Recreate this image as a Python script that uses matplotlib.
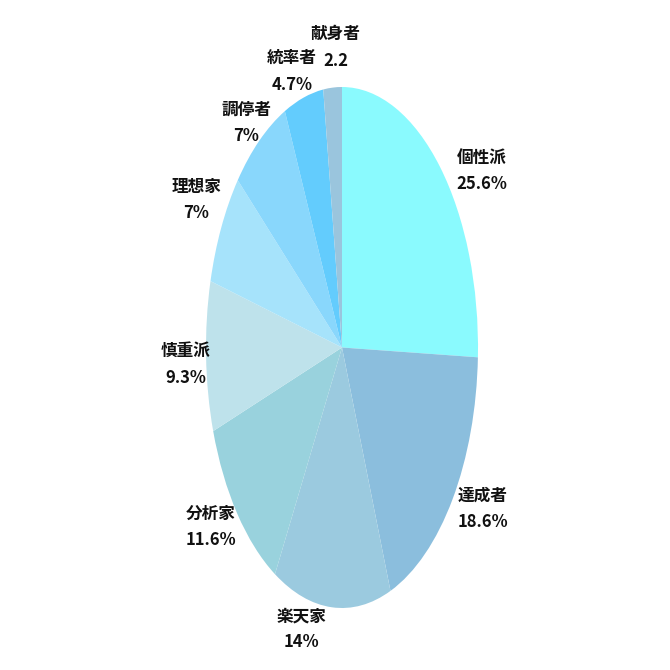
import numpy as np
import matplotlib
matplotlib.use("Agg")
import matplotlib.pyplot as plt

plt.rcParams['font.family'] = ['Noto Sans CJK JP', 'DejaVu Sans']

######################################
names = ['個性派', '達成者', '楽天家', '分析家', '慎重派', '理想家', '調停者', '統率者', '献身者']
values = [25.6, 18.6, 14, 11.6, 9.3, 7, 7, 4.7, 2.2]
value_labels = ['25.6%', '18.6%', '14%', '11.6%', '9.3%', '7%', '7%', '4.7%', '2.2']
colors = ['#8AFAFE', '#8BBEDD', '#9BCADF', '#99D2DD', '#BEE2EB',
          '#A6E3FB', '#89D7FC', '#63CCFD', '#9AC5DD']
# label offset from the slice's outer midpoint, in pixels (x right, y up)
label_offsets = [(42, -4), (30, -10), (-30, -22), (-26, -13), (-20, -8),
                 (-25, 28), (-13, 18), (-12, 26), (3, 40)]
######################################

W, H = 670, 670
cx, cy = 342, 347.5   # ellipse centre in pixels (from top)
rx, ry = 136, 260.5
m = 1.05

fig = plt.figure(figsize=(W / 100, H / 100), dpi=100)
ax = fig.add_axes([(cx - rx * m) / W, (H - cy - ry * m) / H, 2 * rx * m / W, 2 * ry * m / H])

wedges, _ = ax.pie(values, colors=colors, startangle=90, counterclock=False,
                   radius=1, wedgeprops=dict(linewidth=0))
ax.set_aspect('auto')
ax.set_xlim(-m, m)
ax.set_ylim(-m, m)
ax.axis('off')

for w, name, vl, off in zip(wedges, names, value_labels, label_offsets):
    ang = np.deg2rad((w.theta1 + w.theta2) / 2)
    ax.annotate(name + "\n" + vl, xy=(np.cos(ang), np.sin(ang)), xytext=off,
                textcoords='offset pixels', ha='center', va='center',
                fontsize=12, fontweight='bold', linespacing=1.6, color='#111111',
                annotation_clip=False)

fig.savefig('out.png', dpi=100, facecolor='white')
